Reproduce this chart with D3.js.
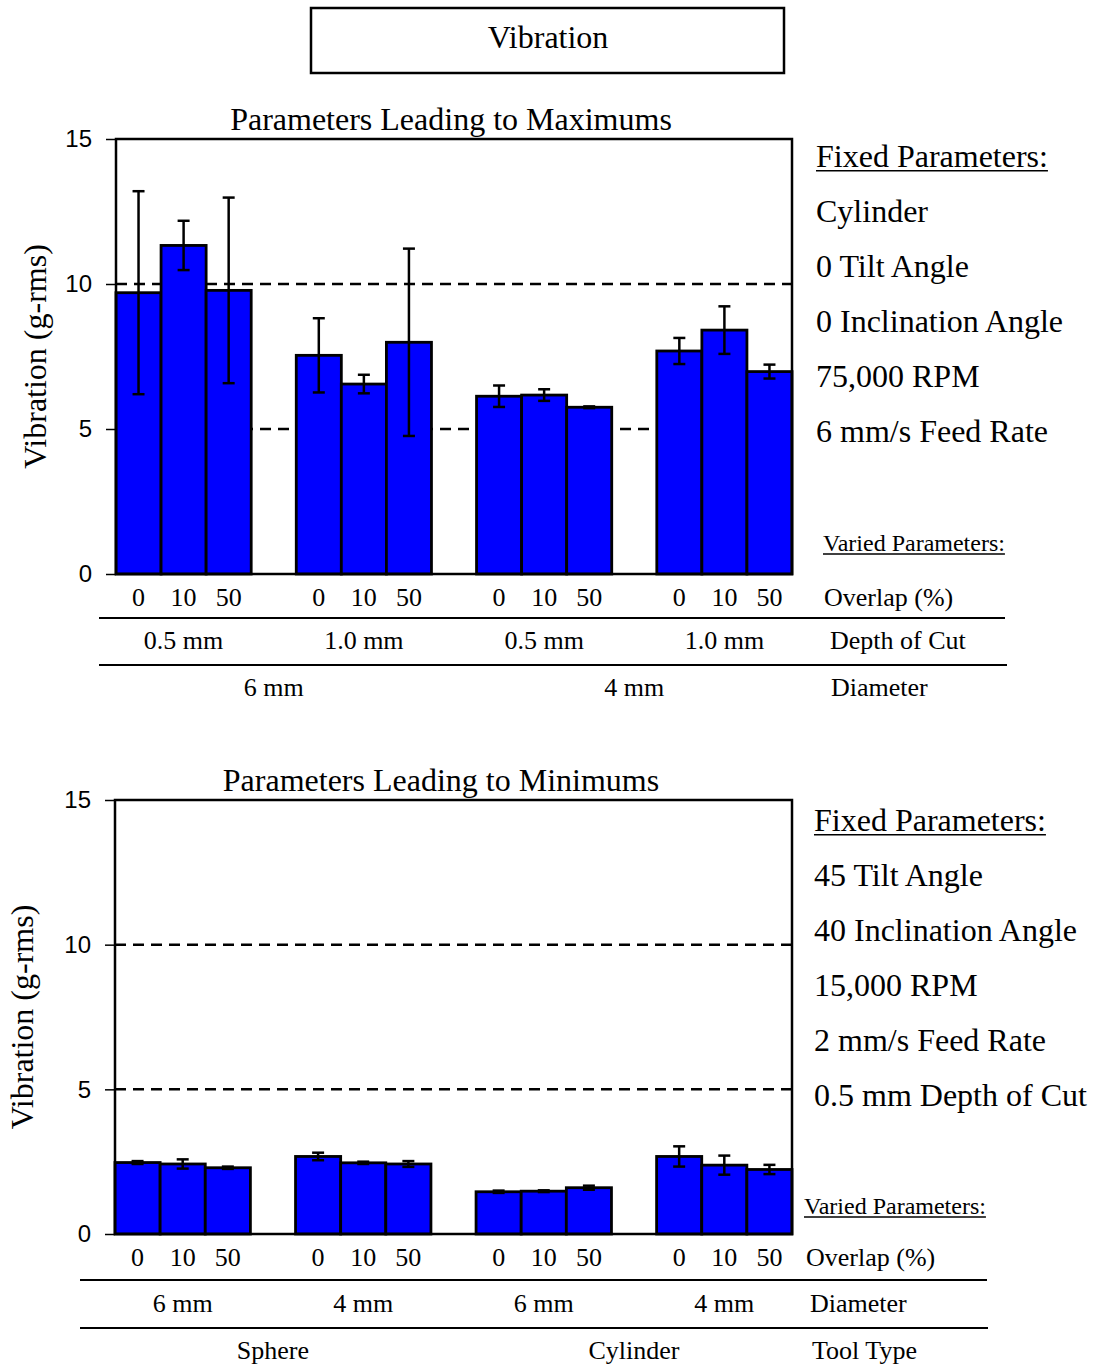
<!DOCTYPE html>
<html>
<head>
<meta charset="utf-8">
<script src="https://cdn.jsdelivr.net/npm/d3@7"></script>
<style>
  body { margin: 0; background: #fff; }
  svg { display: block; }
  text { font-family: "Liberation Serif", "Times New Roman", serif; fill: #000; }
</style>
</head>
<body>
<svg id="chart" width="1094" height="1365"></svg>
<script>
// values
const overlapLabels = ['0', '10', '50'];
const yTicks = [0, 5, 10, 15];
const refLines = [5, 10];

const maxDepth = ['0.5 mm', '1.0 mm', '0.5 mm', '1.0 mm'];
const maxDiameter = ['6 mm', '4 mm'];
const maxMeans = [9.70, 11.33, 9.78, 7.54, 6.55, 7.99, 6.13, 6.17, 5.75, 7.69, 8.41, 6.98];
const maxErrors = [3.5, 0.85, 3.2, 1.28, 0.32, 3.23, 0.37, 0.2, 0.03, 0.45, 0.82, 0.24];
const maxFixed = ['Cylinder', '0 Tilt Angle', '0 Inclination Angle', '75,000 RPM', '6 mm/s Feed Rate'];

const minDiameter = ['6 mm', '4 mm', '6 mm', '4 mm'];
const minTool = ['Sphere', 'Cylinder'];
const minMeans = [2.47, 2.42, 2.29, 2.68, 2.46, 2.42, 1.46, 1.48, 1.60, 2.68, 2.38, 2.23];
const minErrors = [0.05, 0.16, 0.04, 0.13, 0.04, 0.1, 0.04, 0.03, 0.07, 0.35, 0.33, 0.16];
const minFixed = ['45 Tilt Angle', '40 Inclination Angle', '15,000 RPM', '2 mm/s Feed Rate', '0.5 mm Depth of Cut'];

const svg = d3.select('#chart');
const BIG = 32;
const SMALL = 26;

// title box
svg.append('rect')
  .attr('x', 311).attr('y', 8).attr('width', 473).attr('height', 65)
  .attr('fill', 'none').attr('stroke', '#000').attr('stroke-width', 2.5);
svg.append('text')
  .attr('x', 548).attr('y', 48)
  .attr('text-anchor', 'middle')
  .style('font-size', BIG + 'px')
  .text('Vibration');

function underlined(g, x, y, size, label) {
  const t = g.append('text').attr('x', x).attr('y', y).style('font-size', size + 'px').text(label);
  const w = t.node().getComputedTextLength();
  g.append('line')
    .attr('x1', x).attr('x2', x + w)
    .attr('y1', y + size * 0.12).attr('y2', y + size * 0.12)
    .attr('stroke', '#000').attr('stroke-width', 1.5);
}

function drawPanel(p) {
  const g = svg.append('g');
  const y = d3.scaleLinear().domain([0, 15]).range([p.bottom, p.top]);
  // 4 groups of 3 bars, one empty slot between groups
  const x = d3.scaleBand().domain(d3.range(15)).range([p.left, p.right]).padding(0);
  const bars = p.means.map((v, i) => ({
    v, e: p.errors[i], slot: Math.floor(i / 3) * 4 + (i % 3), lab: overlapLabels[i % 3]
  }));

  g.append('text')
    .attr('x', p.titleX).attr('y', p.top - 9)
    .attr('text-anchor', 'middle')
    .style('font-size', BIG + 'px')
    .text(p.title);

  // dashed reference lines (behind the bars)
  g.selectAll('line.ref').data(refLines).enter().append('line')
    .attr('class', 'ref')
    .attr('x1', p.left).attr('x2', p.right)
    .attr('y1', d => y(d)).attr('y2', d => y(d))
    .attr('stroke', '#000').attr('stroke-width', 2.5)
    .attr('stroke-dasharray', '11,7');

  g.selectAll('rect.bar').data(bars).enter().append('rect')
    .attr('class', 'bar')
    .attr('x', d => x(d.slot))
    .attr('y', d => y(d.v))
    .attr('width', x.bandwidth())
    .attr('height', d => p.bottom - y(d.v))
    .attr('fill', '#0000ff')
    .attr('stroke', '#000').attr('stroke-width', 2.8);

  // error bars
  const eb = g.selectAll('g.err').data(bars).enter().append('g').attr('class', 'err')
    .attr('transform', d => `translate(${x(d.slot) + x.bandwidth() / 2},0)`);
  eb.append('line')
    .attr('y1', d => y(d.v + d.e)).attr('y2', d => y(d.v - d.e))
    .attr('stroke', '#000').attr('stroke-width', 2.5);
  eb.selectAll('line.cap').data(d => [d.v + d.e, d.v - d.e]).enter().append('line')
    .attr('class', 'cap')
    .attr('x1', -6).attr('x2', 6)
    .attr('y1', d => y(d)).attr('y2', d => y(d))
    .attr('stroke', '#000').attr('stroke-width', 2.5);

  // frame
  g.append('rect')
    .attr('x', p.left).attr('y', p.top)
    .attr('width', p.right - p.left).attr('height', p.bottom - p.top)
    .attr('fill', 'none').attr('stroke', '#000').attr('stroke-width', 2.5);

  const axis = g.append('g')
    .attr('transform', `translate(${p.left},0)`)
    .call(d3.axisLeft(y).tickValues(yTicks).tickSize(10).tickPadding(14));
  axis.select('.domain').remove();
  axis.selectAll('.tick line').attr('stroke', '#000').attr('stroke-width', 1.5);
  axis.selectAll('.tick text')
    .attr('fill', '#595959')
    .attr('font-size', 24)
    .style('font-family', '"Liberation Sans", Arial, sans-serif')
    .style('font-size', '24px');

  g.append('text')
    .attr('transform', `translate(${p.yLabelX},${(p.top + p.bottom) / 2}) rotate(-90)`)
    .attr('text-anchor', 'middle')
    .style('font-size', BIG + 'px')
    .text('Vibration (g-rms)');

  // overlap tier
  g.selectAll('text.ov').data(bars).enter().append('text')
    .attr('class', 'ov')
    .attr('x', d => x(d.slot) + x.bandwidth() / 2)
    .attr('y', p.tierY[0])
    .attr('text-anchor', 'middle')
    .style('font-size', SMALL + 'px')
    .text(d => d.lab);

  // second tier: one label per group of 3
  g.selectAll('text.t2').data(p.tier2).enter().append('text')
    .attr('class', 't2')
    .attr('x', (d, i) => (x(i * 4) + x(i * 4 + 2) + x.bandwidth()) / 2)
    .attr('y', p.tierY[1])
    .attr('text-anchor', 'middle')
    .style('font-size', SMALL + 'px')
    .text(d => d);

  // third tier: one label per pair of groups
  g.selectAll('text.t3').data(p.tier3).enter().append('text')
    .attr('class', 't3')
    .attr('x', (d, i) => (x(i * 8) + x(i * 8 + 6) + x.bandwidth()) / 2)
    .attr('y', p.tierY[2])
    .attr('text-anchor', 'middle')
    .style('font-size', SMALL + 'px')
    .text(d => d);

  p.rules.forEach(r => {
    g.append('line')
      .attr('x1', r[0]).attr('x2', r[1]).attr('y1', r[2]).attr('y2', r[2])
      .attr('stroke', '#000').attr('stroke-width', 2.2);
  });

  // tier names on the right
  p.tierNames.forEach((t, i) => {
    g.append('text').attr('x', p.tierNameX[i]).attr('y', p.tierY[i])
      .style('font-size', SMALL + 'px').text(t);
  });
  underlined(g, p.variedX, p.variedY, SMALL - 2, 'Varied Parameters:');

  // fixed parameters
  underlined(g, p.fixedX, p.fixedY, BIG, 'Fixed Parameters:');
  g.selectAll('text.fx').data(p.fixed).enter().append('text')
    .attr('class', 'fx')
    .attr('x', p.fixedX)
    .attr('y', (d, i) => p.fixedY + 55 * (i + 1))
    .style('font-size', BIG + 'px')
    .text(d => d);
}

drawPanel({
  title: 'Parameters Leading to Maximums', titleX: 451,
  left: 116, right: 792, top: 139, bottom: 574,
  means: maxMeans, errors: maxErrors,
  tier2: maxDepth, tier3: maxDiameter,
  tierY: [606, 649, 696],
  tierNames: ['Overlap (%)', 'Depth of Cut', 'Diameter'],
  tierNameX: [824, 830, 831],
  rules: [[99, 1005, 618], [99, 1007, 665]],
  variedX: 823, variedY: 551,
  fixedX: 816, fixedY: 167, fixed: maxFixed,
  yLabelX: 46
});

drawPanel({
  title: 'Parameters Leading to Minimums', titleX: 441,
  left: 115, right: 792, top: 800, bottom: 1234,
  means: minMeans, errors: minErrors,
  tier2: minDiameter, tier3: minTool,
  tierY: [1266, 1312, 1359],
  tierNames: ['Overlap (%)', 'Diameter', 'Tool Type'],
  tierNameX: [806, 810, 812],
  rules: [[80, 987, 1280], [80, 988, 1328]],
  variedX: 804, variedY: 1214,
  fixedX: 814, fixedY: 831, fixed: minFixed,
  yLabelX: 33
});
</script>
</body>
</html>
